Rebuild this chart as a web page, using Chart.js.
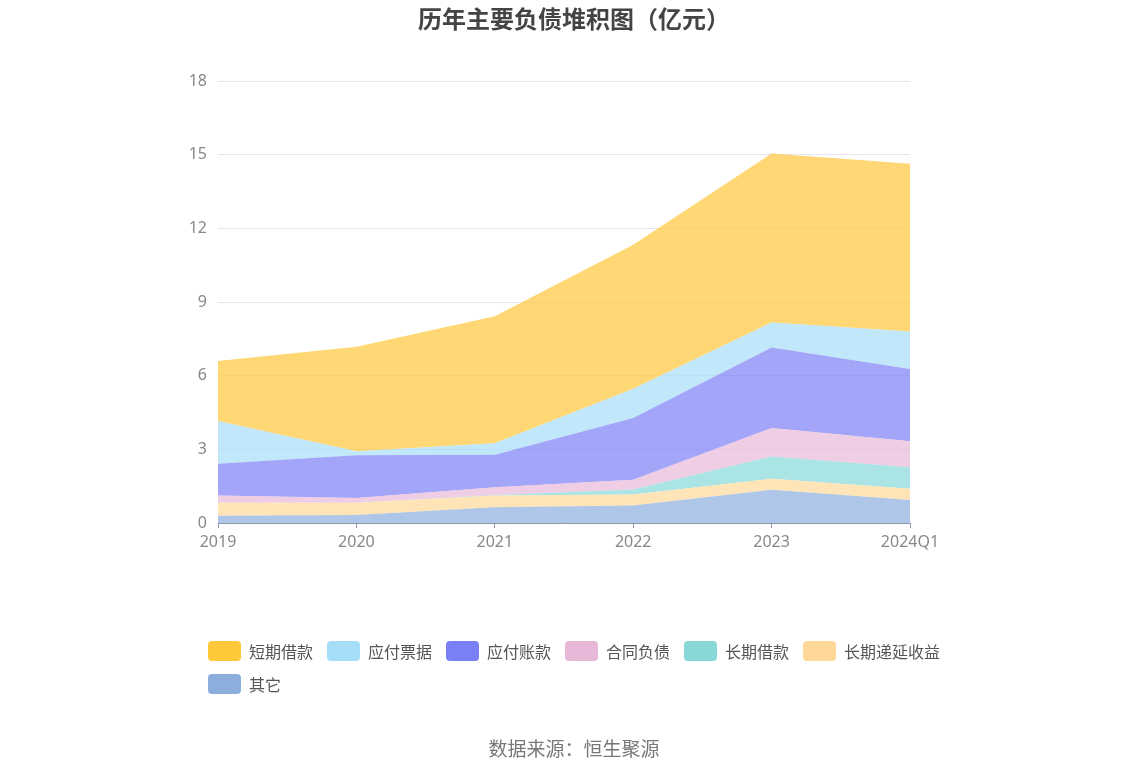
<!DOCTYPE html>
<html lang="zh">
<head>
<meta charset="UTF-8">
<title>历年主要负债堆积图（亿元）</title>
<script src="https://cdn.jsdelivr.net/npm/chart.js"></script>
<style>
    body { margin: 0; background: #fff; font-family: "Noto Sans CJK SC", "Noto Sans", sans-serif; }
    .wrap { position: relative; width: 1148px; height: 776px; }
    canvas { position: absolute; left: 0; top: 0; }
    .title { position: absolute; top: 0px; left: 0; width: 1148px; text-align: center;
             font-size: 24px; font-weight: bold; color: #444; }
    .legend { position: absolute; left: 208px; top: 640px; width: 790px; display: flex; flex-wrap: wrap; }
    .legend .item { display: flex; align-items: center; height: 22px; margin: 0 14px 11px 0; font-size: 16px; color: #555; }
    .legend .box { width: 33px; height: 20px; border-radius: 4px; margin-right: 8px; }
    .source { position: absolute; top: 734px; left: 0; width: 1148px; text-align: center; font-size: 19px; color: #777; }
</style>
</head>
<body>
<div class="wrap">
    <canvas id="debtChart" width="1148" height="776"></canvas>
    <div class="title">历年主要负债堆积图（亿元）</div>
    <div class="legend" id="legend"></div>
    <div class="source">数据来源：恒生聚源</div>
</div>

<script>
    const years = ['2019', '2020', '2021', '2022', '2023', '2024Q1'];

    // values in 亿元
    const shortLoans     = [2.45, 4.26, 5.17, 5.86, 6.88, 6.83]; // 短期借款
    const notesPayable   = [1.74, 0.16, 0.47, 1.19, 1.02, 1.53]; // 应付票据
    const accountsPay    = [1.29, 1.74, 1.32, 2.52, 3.28, 2.94]; // 应付账款
    const contractLiab   = [0.30, 0.20, 0.32, 0.40, 1.16, 1.06]; // 合同负债
    const longLoans      = [0.00, 0.00, 0.02, 0.20, 0.91, 0.88]; // 长期借款
    const deferredIncome = [0.52, 0.49, 0.48, 0.45, 0.45, 0.45]; // 长期递延收益
    const others         = [0.30, 0.33, 0.64, 0.71, 1.35, 0.94]; // 其它

    const yTicks = [0, 3, 6, 9, 12, 15, 18];

    // legend order (top of stack first)
    const series = [
        { name: '短期借款', data: shortLoans, rgb: '255,199,58' },
        { name: '应付票据', data: notesPayable, rgb: '166,221,248' },
        { name: '应付账款', data: accountsPay, rgb: '123,127,245' },
        { name: '合同负债', data: contractLiab, rgb: '232,184,216' },
        { name: '长期借款', data: longLoans, rgb: '136,216,216' },
        { name: '长期递延收益', data: deferredIncome, rgb: '255,216,152' },
        { name: '其它', data: others, rgb: '140,174,221' }
    ];

    const legendEl = document.getElementById('legend');
    series.forEach(s => {
        const item = document.createElement('div');
        item.className = 'item';
        item.innerHTML = '<span class="box" style="background:rgb(' + s.rgb + ')"></span>' + s.name;
        legendEl.appendChild(item);
    });

    // stack from the bottom up
    const datasets = series.slice().reverse().map((s, i) => ({
        label: s.name,
        data: s.data,
        backgroundColor: 'rgba(' + s.rgb + ',0.7)',
        borderWidth: 0,
        pointRadius: 0,
        pointHoverRadius: 0,
        tension: 0,
        fill: i === 0 ? 'origin' : '-1'
    }));

    new Chart(document.getElementById('debtChart').getContext('2d'), {
        type: 'line',
        data: { labels: years, datasets: datasets },
        options: {
            responsive: false,
            animation: false,
            layout: { padding: { left: 168, right: 238, top: 81, bottom: 223 } },
            plugins: { legend: { display: false }, title: { display: false }, tooltip: { enabled: false } },
            scales: {
                x: {
                    offset: false,
                    grid: { drawOnChartArea: false, drawTicks: true, tickLength: 5, color: '#8e97a8' },
                    border: { display: true, color: '#8e97a8' },
                    ticks: { color: '#888', font: { size: 16, family: 'Noto Sans' }, padding: 5, maxRotation: 0 },
                    afterFit: s => { s.height = 30; }
                },
                y: {
                    stacked: true,
                    min: 0,
                    max: 18,
                    afterBuildTicks: s => { s.ticks = yTicks.map(v => ({ value: v })); },
                    grid: { color: '#e3e6ee', drawTicks: false },
                    border: { display: false },
                    ticks: { color: '#888', font: { size: 16, family: 'Noto Sans' }, padding: 11 },
                    afterFit: s => { s.width = 50; }
                }
            }
        }
    });
</script>
</body>
</html>
